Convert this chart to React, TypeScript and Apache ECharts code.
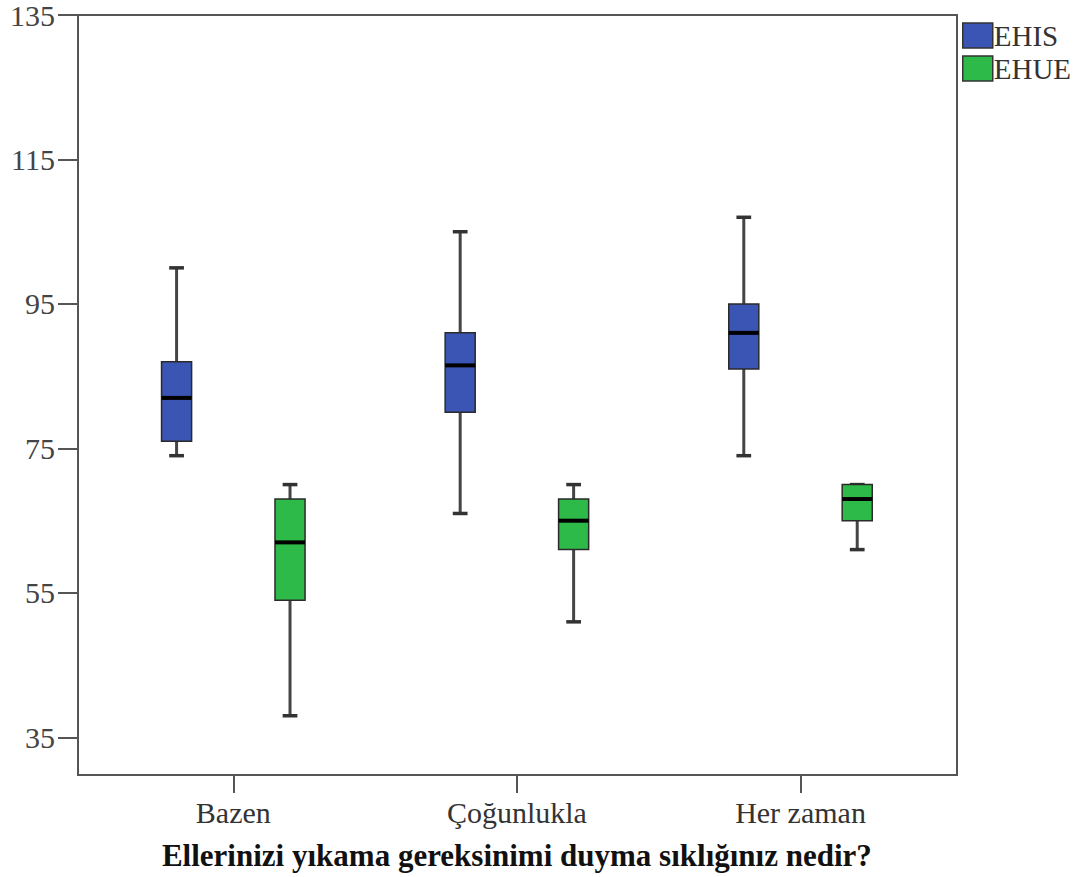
import React, { useEffect, useRef } from "react";
import * as echarts from "echarts";

const categories = ["Bazen", "Çoğunlukla", "Her zaman"];
// [min, Q1, median, Q3, max]
const ehisValues = [
  [74, 76, 82, 87, 100],
  [66, 80, 86.5, 91, 105],
  [74, 86, 91, 95, 107],
];
const ehueValues = [
  [38, 54, 62, 68, 70],
  [51, 61, 65, 68, 70],
  [61, 65, 68, 70, 70],
];
const yTicks = [35, 55, 75, 95, 115, 135];
const seriesNames = ["EHIS", "EHUE"];
const seriesColors = ["#3A55B4", "#2EBA48"];

const FONT = "'Liberation Serif', 'Times New Roman', serif";

export default function App() {
  const ref = useRef<HTMLDivElement>(null);
  useEffect(() => {
    if (!ref.current) return;
    const chart = echarts.init(ref.current, undefined, { renderer: "svg" });

    const makeRender = (offFrac: number, color: string) => (params: any, api: any) => {
      const cat = api.value(0);
      const band = api.size([1, 0])[0];
      const off = offFrac * band;
      const half = band * 0.053;
      const capHalf = band * 0.026;
      const pMin = api.coord([cat, api.value(1)]);
      const pQ1 = api.coord([cat, api.value(2)]);
      const pMed = api.coord([cat, api.value(3)]);
      const pQ3 = api.coord([cat, api.value(4)]);
      const pMax = api.coord([cat, api.value(5)]);
      const x = pMin[0] + off;
      const lineStyle = { stroke: "#454545", lineWidth: 3 };
      const capStyle = { stroke: "#333", lineWidth: 3.5 };
      return {
        type: "group",
        children: [
          { type: "line", shape: { x1: x, y1: pMax[1], x2: x, y2: pQ3[1] }, style: lineStyle },
          { type: "line", shape: { x1: x, y1: pQ1[1], x2: x, y2: pMin[1] }, style: lineStyle },
          { type: "line", shape: { x1: x - capHalf, y1: pMax[1], x2: x + capHalf, y2: pMax[1] }, style: capStyle },
          { type: "line", shape: { x1: x - capHalf, y1: pMin[1], x2: x + capHalf, y2: pMin[1] }, style: capStyle },
          {
            type: "rect",
            shape: { x: x - half, y: pQ3[1], width: half * 2, height: pQ1[1] - pQ3[1] },
            style: { fill: color, stroke: "#2a2a2a", lineWidth: 1.5 },
          },
          {
            type: "line",
            shape: { x1: x - half, y1: pMed[1], x2: x + half, y2: pMed[1] },
            style: { stroke: "#000", lineWidth: 4 },
          },
        ],
      };
    };

    const toData = (vals: number[][]) => vals.map((v, i) => [i, ...v]);

    chart.setOption({
      animation: false,
      backgroundColor: "#fff",
      textStyle: { fontFamily: FONT },
      grid: [
        { left: 91.5, right: 141.7, top: 15, bottom: 102, containLabel: false },
        { left: 78, right: 127, top: 15, bottom: 102, show: true, borderColor: "#555", borderWidth: 2, z: 1 },
      ],
      legend: {
        orient: "vertical",
        left: 957,
        top: 16,
        itemWidth: 30,
        itemHeight: 25,
        itemGap: 4,
        itemStyle: { borderColor: "#333", borderWidth: 1.5 },
        textStyle: { fontFamily: FONT, fontSize: 29, color: "#333", padding: [0, 0, 0, -4] },
        data: seriesNames.map((n, i) => ({ name: n, icon: "rect", itemStyle: { color: seriesColors[i] } })),
      },
      xAxis: {
        type: "category",
        gridIndex: 0,
        data: categories,
        axisLine: { show: false },
        axisTick: { show: true, length: 18, alignWithLabel: true, lineStyle: { color: "#555", width: 2 } },
        axisLabel: { fontFamily: FONT, fontSize: 30, color: "#333", margin: 22, interval: 0 },
        name: "Ellerinizi yıkama gereksinimi duyma sıklığınız nedir?",
        nameLocation: "middle",
        nameGap: 65,
        nameTextStyle: { fontFamily: FONT, fontSize: 31, fontWeight: "bold", color: "#111" },
        splitLine: { show: false },
      },
      yAxis: {
        type: "value",
        gridIndex: 0,
        min: 29.8,
        max: 135,
        offset: 13.5,
        axisLine: { show: true, lineStyle: { color: "#555", width: 2 } },
        axisTick: { show: true, length: 20, customValues: yTicks, lineStyle: { color: "#555", width: 2 } },
        axisLabel: { fontFamily: FONT, fontSize: 30, color: "#444", margin: 23, customValues: yTicks },
        splitLine: { show: false },
      },
      series: [
        {
          name: seriesNames[0],
          type: "custom",
          xAxisIndex: 0,
          yAxisIndex: 0,
          itemStyle: { color: seriesColors[0] },
          encode: { x: 0, y: [1, 2, 3, 4, 5] },
          renderItem: makeRender(-0.2, seriesColors[0]),
          data: toData(ehisValues),
          z: 5,
        },
        {
          name: seriesNames[1],
          type: "custom",
          xAxisIndex: 0,
          yAxisIndex: 0,
          itemStyle: { color: seriesColors[1] },
          encode: { x: 0, y: [1, 2, 3, 4, 5] },
          renderItem: makeRender(0.2, seriesColors[1]),
          data: toData(ehueValues),
          z: 5,
        },
      ],
    });
    return () => chart.dispose();
  }, []);
  return <div ref={ref} style={{ position: "absolute", left: 0, top: 0, width: 1084, height: 877 }} />;
}
